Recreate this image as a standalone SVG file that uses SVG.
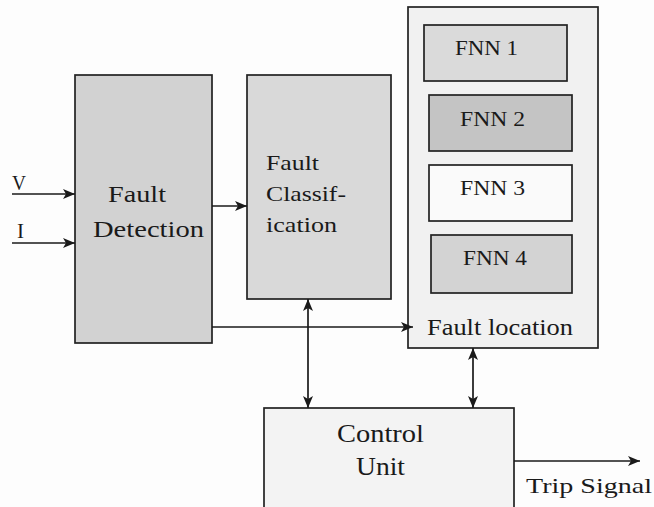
<svg xmlns="http://www.w3.org/2000/svg" width="654" height="507" viewBox="0 0 654 507">
<style>
.box{stroke:#222;stroke-width:1.7}
.t{font-family:'Liberation Serif','DejaVu Serif',serif;fill:#1a1a1a}
.c{stroke:#1a1a1a;stroke-width:1.7;fill:none}
</style>
<defs>
<marker id="ah" viewBox="0 0 12 10" refX="12" refY="5" markerWidth="12" markerHeight="10" markerUnits="userSpaceOnUse" orient="auto-start-reverse">
<path d="M0,0 L12,5 L0,10 L3,5 Z" fill="#1a1a1a"/>
</marker>
</defs>
<rect width="654" height="507" fill="#fdfdfd"/>
<g id="fault-detection">
<rect class="box" x="75" y="75" width="137" height="268" fill="#d2d2d2"/>
<text class="t" x="108" y="202" font-size="24" textLength="58" lengthAdjust="spacingAndGlyphs">Fault</text>
<text class="t" x="93" y="237" font-size="24" textLength="111" lengthAdjust="spacingAndGlyphs">Detection</text>
</g>
<g id="fault-classification">
<rect class="box" x="247" y="75" width="144" height="224" fill="#d9d9d9"/>
<text class="t" x="266" y="170" font-size="22" textLength="53" lengthAdjust="spacingAndGlyphs">Fault</text>
<text class="t" x="266" y="201" font-size="22" textLength="80" lengthAdjust="spacingAndGlyphs">Classif-</text>
<text class="t" x="266" y="232" font-size="22" textLength="71" lengthAdjust="spacingAndGlyphs">ication</text>
</g>
<g id="fault-location">
<rect class="box" x="408" y="7" width="190" height="341" fill="#f1f1f1" stroke-width="1.2"/>
<text class="t" x="427" y="335" font-size="24" textLength="146" lengthAdjust="spacingAndGlyphs">Fault location</text>
</g>
<g id="fnn1">
<rect class="box" x="424" y="25" width="143" height="56" fill="#dadada"/>
<text class="t" x="455" y="55" font-size="20" textLength="63" lengthAdjust="spacingAndGlyphs">FNN 1</text>
</g>
<g id="fnn2">
<rect class="box" x="429" y="95" width="143" height="56" fill="#c4c4c4"/>
<text class="t" x="460" y="126" font-size="20" textLength="65" lengthAdjust="spacingAndGlyphs">FNN 2</text>
</g>
<g id="fnn3">
<rect class="box" x="429" y="165" width="143" height="56" fill="#fafafa"/>
<text class="t" x="460" y="195" font-size="20" textLength="65" lengthAdjust="spacingAndGlyphs">FNN 3</text>
</g>
<g id="fnn4">
<rect class="box" x="431" y="235" width="141" height="58" fill="#d3d3d3"/>
<text class="t" x="463" y="265" font-size="20" textLength="64" lengthAdjust="spacingAndGlyphs">FNN 4</text>
</g>
<g id="control-unit">
<rect class="box" x="264" y="408" width="250" height="110" fill="#f3f3f3"/>
<text class="t" x="337" y="442" font-size="26" textLength="87" lengthAdjust="spacingAndGlyphs">Control</text>
<text class="t" x="356" y="475" font-size="26" textLength="49" lengthAdjust="spacingAndGlyphs">Unit</text>
</g>
<g id="connectors">
<line class="c" x1="12" y1="194" x2="75" y2="194" marker-end="url(#ah)"/>
<line class="c" x1="12" y1="243" x2="75" y2="243" marker-end="url(#ah)"/>
<line class="c" x1="212" y1="206" x2="247" y2="206" marker-end="url(#ah)"/>
<line class="c" x1="212" y1="327" x2="413" y2="327" marker-end="url(#ah)"/>
<line class="c" x1="308" y1="299" x2="308" y2="408" marker-start="url(#ah)" marker-end="url(#ah)"/>
<line class="c" x1="473" y1="348" x2="473" y2="408" marker-start="url(#ah)" marker-end="url(#ah)"/>
<line class="c" x1="514" y1="461" x2="640" y2="461" marker-end="url(#ah)"/>
<text class="t" x="12" y="190" font-size="21" textLength="14" lengthAdjust="spacingAndGlyphs">V</text>
<text class="t" x="17" y="238" font-size="21" textLength="7" lengthAdjust="spacingAndGlyphs">I</text>
<text class="t" x="526" y="493" font-size="21" textLength="126" lengthAdjust="spacingAndGlyphs">Trip Signal</text>
</g>
</svg>
